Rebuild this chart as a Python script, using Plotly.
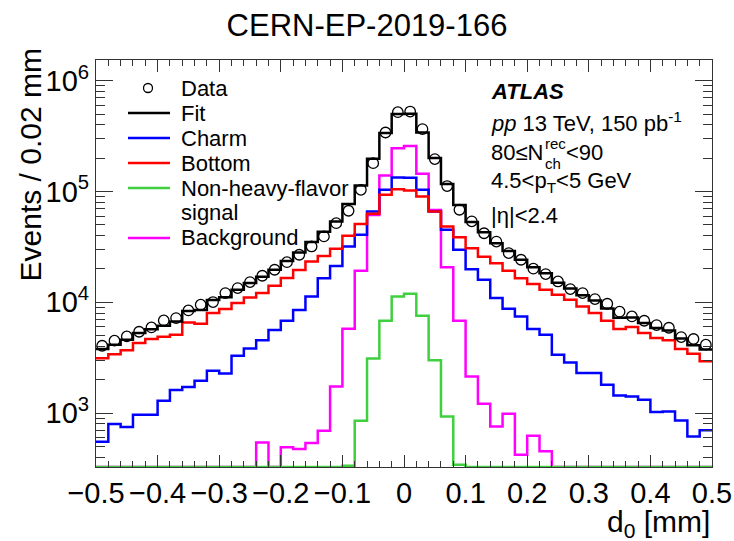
import numpy as np
import plotly.graph_objects as go

# ---- binning: d0 in [-0.5, 0.5] mm, 0.02 mm bins ----
D0_LO, D0_HI, BIN_W = -0.5, 0.5, 0.02
edges = np.round(np.linspace(D0_LO, D0_HI, 51), 4)
centers = 0.5 * (edges[:-1] + edges[1:])

# ---- events per bin ----
data_counts = [4050, 4500, 4920, 5420, 5930, 6860, 7200, 8450, 9510, 10050,
               12100, 13430, 15210, 17350, 19670, 23000, 26850, 31900, 39300, 51800,
               67000, 103600, 180300, 341000, 520000, 527000, 366000, 196000, 112000, 68400,
               53800, 42000, 35300, 27800, 24200, 20100, 17960, 15410, 13150, 12110,
               10690, 9700, 8220, 7450, 6810, 6220, 5890, 4850, 4660, 4140]

fit_counts = [3780, 4140, 4600, 5270, 5700, 6150, 6720, 8350, 8500, 10500,
              11100, 13000, 14900, 17000, 19700, 23600, 28200, 35000, 43400, 53500,
              77000, 113000, 198000, 338000, 500000, 504000, 340000, 201000, 117000, 75500,
              53000, 42800, 34100, 29000, 24200, 20700, 18300, 15000, 13300, 11600,
              10400, 8800, 7250, 7300, 6500, 5850, 5570, 4700, 4100, 3750]

charm_counts = [551, 796, 749, 966, 965, 1292, 1614, 1718, 1960, 2410,
                2281, 3290, 3833, 4530, 5614, 6810, 8500, 11300, 16500, 21300,
                31900, 40700, 66000, 103500, 134000, 133000, 103500, 66000, 45100, 29800,
                19900, 15960, 10910, 8750, 7450, 5730, 5100, 3360, 2866, 2296,
                2296, 1803, 1443, 1413, 1319, 1021, 1035, 858, 615, 698]

bottom_counts = [3130, 3400, 3680, 4290, 4660, 4890, 5100, 6580, 6400, 7990,
                 8690, 9840, 11070, 12110, 14100, 16600, 19600, 23300, 26200, 30400,
                 39800, 50800, 62900, 93300, 105000, 102000, 90200, 66000, 48300, 38700,
                 30800, 25700, 22500, 19300, 16500, 14590, 12970, 11690, 10540, 9180,
                 8000, 6810, 5730, 5970, 5270, 4750, 4530, 3780, 3430, 2930]

nonhf_counts = [0, 0, 0, 0, 0, 0, 0, 0, 0, 0,
                0, 0, 0, 0, 0, 0, 0, 0, 0, 0,
                335, 853, 3110, 6810, 11300, 11950, 7550, 2990, 933, 342,
                0, 0, 0, 0, 0, 0, 0, 0, 0, 0,
                0, 0, 0, 0, 0, 0, 0, 0, 0, 0]

background_counts = [0, 0, 0, 0, 0, 0, 0, 0, 0, 0,
                     0, 0, 0, 543, 0, 490, 473, 536, 693, 1740,
                     5770, 19300, 61500, 139700, 246000, 258000, 144500, 68200, 20700, 6810,
                     2140, 1215, 758, 986, 421, 624, 451, 0, 0, 0,
                     0, 0, 0, 0, 0, 0, 0, 0, 0, 0]

# ---- figure geometry ----
W, H = 734, 541
ML, MR, MT, MB = 96, 22, 60, 74
PW, PH = W - ML - MR, H - MT - MB
Y_LOG_MIN, Y_LOG_MAX = 2.513, 6.187
Y_FLOOR = 10 ** Y_LOG_MIN

FONT = "Liberation Sans"
BLUE, RED, GREEN, MAGENTA = "#0000ff", "#ff0000", "#3fcf3f", "#ff00ff"


def step_xy(counts):
    """Histogram outline; empty bins sit on the bottom of the frame."""
    v = np.maximum(np.asarray(counts, float), Y_FLOOR)
    return edges, np.append(v, v[-1])


def px(x):
    return (x - ML) / PW


def py(y):
    return (MT + PH - y) / PH


fig = go.Figure()

for counts, color in [(background_counts, MAGENTA), (charm_counts, BLUE),
                      (bottom_counts, RED), (nonhf_counts, GREEN),
                      (fit_counts, "black")]:
    xs, ys = step_xy(counts)
    fig.add_trace(go.Scatter(x=xs, y=ys, mode="lines",
                             line=dict(shape="hv", color=color, width=2.5),
                             showlegend=False, hoverinfo="skip"))

fig.add_trace(go.Scatter(x=centers, y=data_counts, mode="markers",
                         marker=dict(symbol="circle-open", size=10.5, color="black",
                                     line=dict(width=1.3, color="black")),
                         showlegend=False))

# ---- legend, drawn by hand ----
shapes = []
annotations = []
LEG_X0, LEG_X1, LEG_TX = 128, 170, 179
legend_rows = [("Data", None, 88),
               ("Fit", "black", 113),
               ("Charm", BLUE, 138),
               ("Bottom", RED, 163),
               ("Non-heavy-flavor", GREEN, 188),
               ("signal", None, 212),
               ("Background", MAGENTA, 238)]
for label_text, color, yc in legend_rows:
    if color is not None:
        shapes.append(dict(type="line", xref="paper", yref="paper",
                           x0=px(LEG_X0), x1=px(LEG_X1), y0=py(yc), y1=py(yc),
                           line=dict(color=color, width=2.5)))
    annotations.append(dict(text=label_text, xref="paper", yref="paper",
                            x=px(LEG_TX), y=py(yc), xanchor="left", yanchor="middle",
                            showarrow=False, font=dict(family=FONT, size=22, color="black")))
r = 4.5
shapes.append(dict(type="circle", xref="paper", yref="paper",
                   x0=px(148 - r), x1=px(148 + r), y0=py(88 + r), y1=py(88 - r),
                   line=dict(color="black", width=1.3)))

# ---- ATLAS label block ----
TX = 489


def label(text, x, y, size=22, anchor="left"):
    annotations.append(dict(text=text, xref="paper", yref="paper", x=px(x), y=py(y),
                            xanchor=anchor, yanchor="middle", showarrow=False,
                            font=dict(family=FONT, size=size, color="black")))


label("<b><i>ATLAS</i></b>", TX, 91)
label("<i>pp</i> 13 TeV, 150 pb<sup>-1</sup>", TX, 122)
label("80≤N", TX, 152)
label("rec", 543, 143, size=15)
label("ch", 543, 163, size=15)
label("&lt;90", 564, 152)
label("4.5&lt;p<sub>T</sub>&lt;5 GeV", TX, 182)
label("|η|&lt;2.4", TX, 215)

# ---- axis titles ----
annotations.append(dict(text="Events / 0.02 mm", xref="paper", yref="paper",
                        x=px(30), y=py(47), xanchor="center", yanchor="top",
                        textangle=-90, showarrow=False,
                        font=dict(family=FONT, size=30, color="black")))
annotations.append(dict(text="d<sub>0</sub> [mm]", xref="paper", yref="paper",
                        x=px(712), y=py(523), xanchor="right", yanchor="middle",
                        showarrow=False, font=dict(family=FONT, size=30, color="black")))

minor_y = [k * 10 ** d for d in range(2, 7) for k in range(2, 10)]
AX = "#333333"

fig.update_layout(
    width=W, height=H,
    margin=dict(l=ML, r=MR, t=MT, b=MB, pad=0, autoexpand=False),
    paper_bgcolor="white", plot_bgcolor="white",
    title=dict(text="CERN-EP-2019-166", x=0.5, xref="container",
               y=1 - 25 / H, yref="container", xanchor="center", yanchor="middle",
               font=dict(family=FONT, size=31, color="black")),
    shapes=shapes, annotations=annotations,
    xaxis=dict(range=[D0_LO, D0_HI], tickmode="linear", tick0=-0.5, dtick=0.1,
               automargin=False,
               ticks="inside", ticklen=12, tickwidth=1, tickcolor=AX,
               showline=True, linecolor=AX, linewidth=1.2, mirror="ticks",
               minor=dict(dtick=0.02, tick0=-0.5, ticks="inside", ticklen=6,
                          tickwidth=1, tickcolor=AX, showgrid=False),
               showgrid=False, zeroline=False,
               tickfont=dict(family=FONT, size=29, color="black")),
    yaxis=dict(type="log", range=[Y_LOG_MIN, Y_LOG_MAX], automargin=False,
               tickmode="array", tickvals=[1e3, 1e4, 1e5, 1e6],
               ticktext=["10<sup>3</sup>", "10<sup>4</sup>", "10<sup>5</sup>", "10<sup>6</sup>"],
               ticks="inside", ticklen=17, tickwidth=1, tickcolor=AX,
               showline=True, linecolor=AX, linewidth=1.2, mirror="ticks",
               minor=dict(tickmode="array", tickvals=minor_y, ticks="inside", ticklen=9,
                          tickwidth=1, tickcolor=AX, showgrid=False),
               showgrid=False, zeroline=False,
               tickfont=dict(family=FONT, size=29, color="black")),
)

fig.write_html("out.html")
